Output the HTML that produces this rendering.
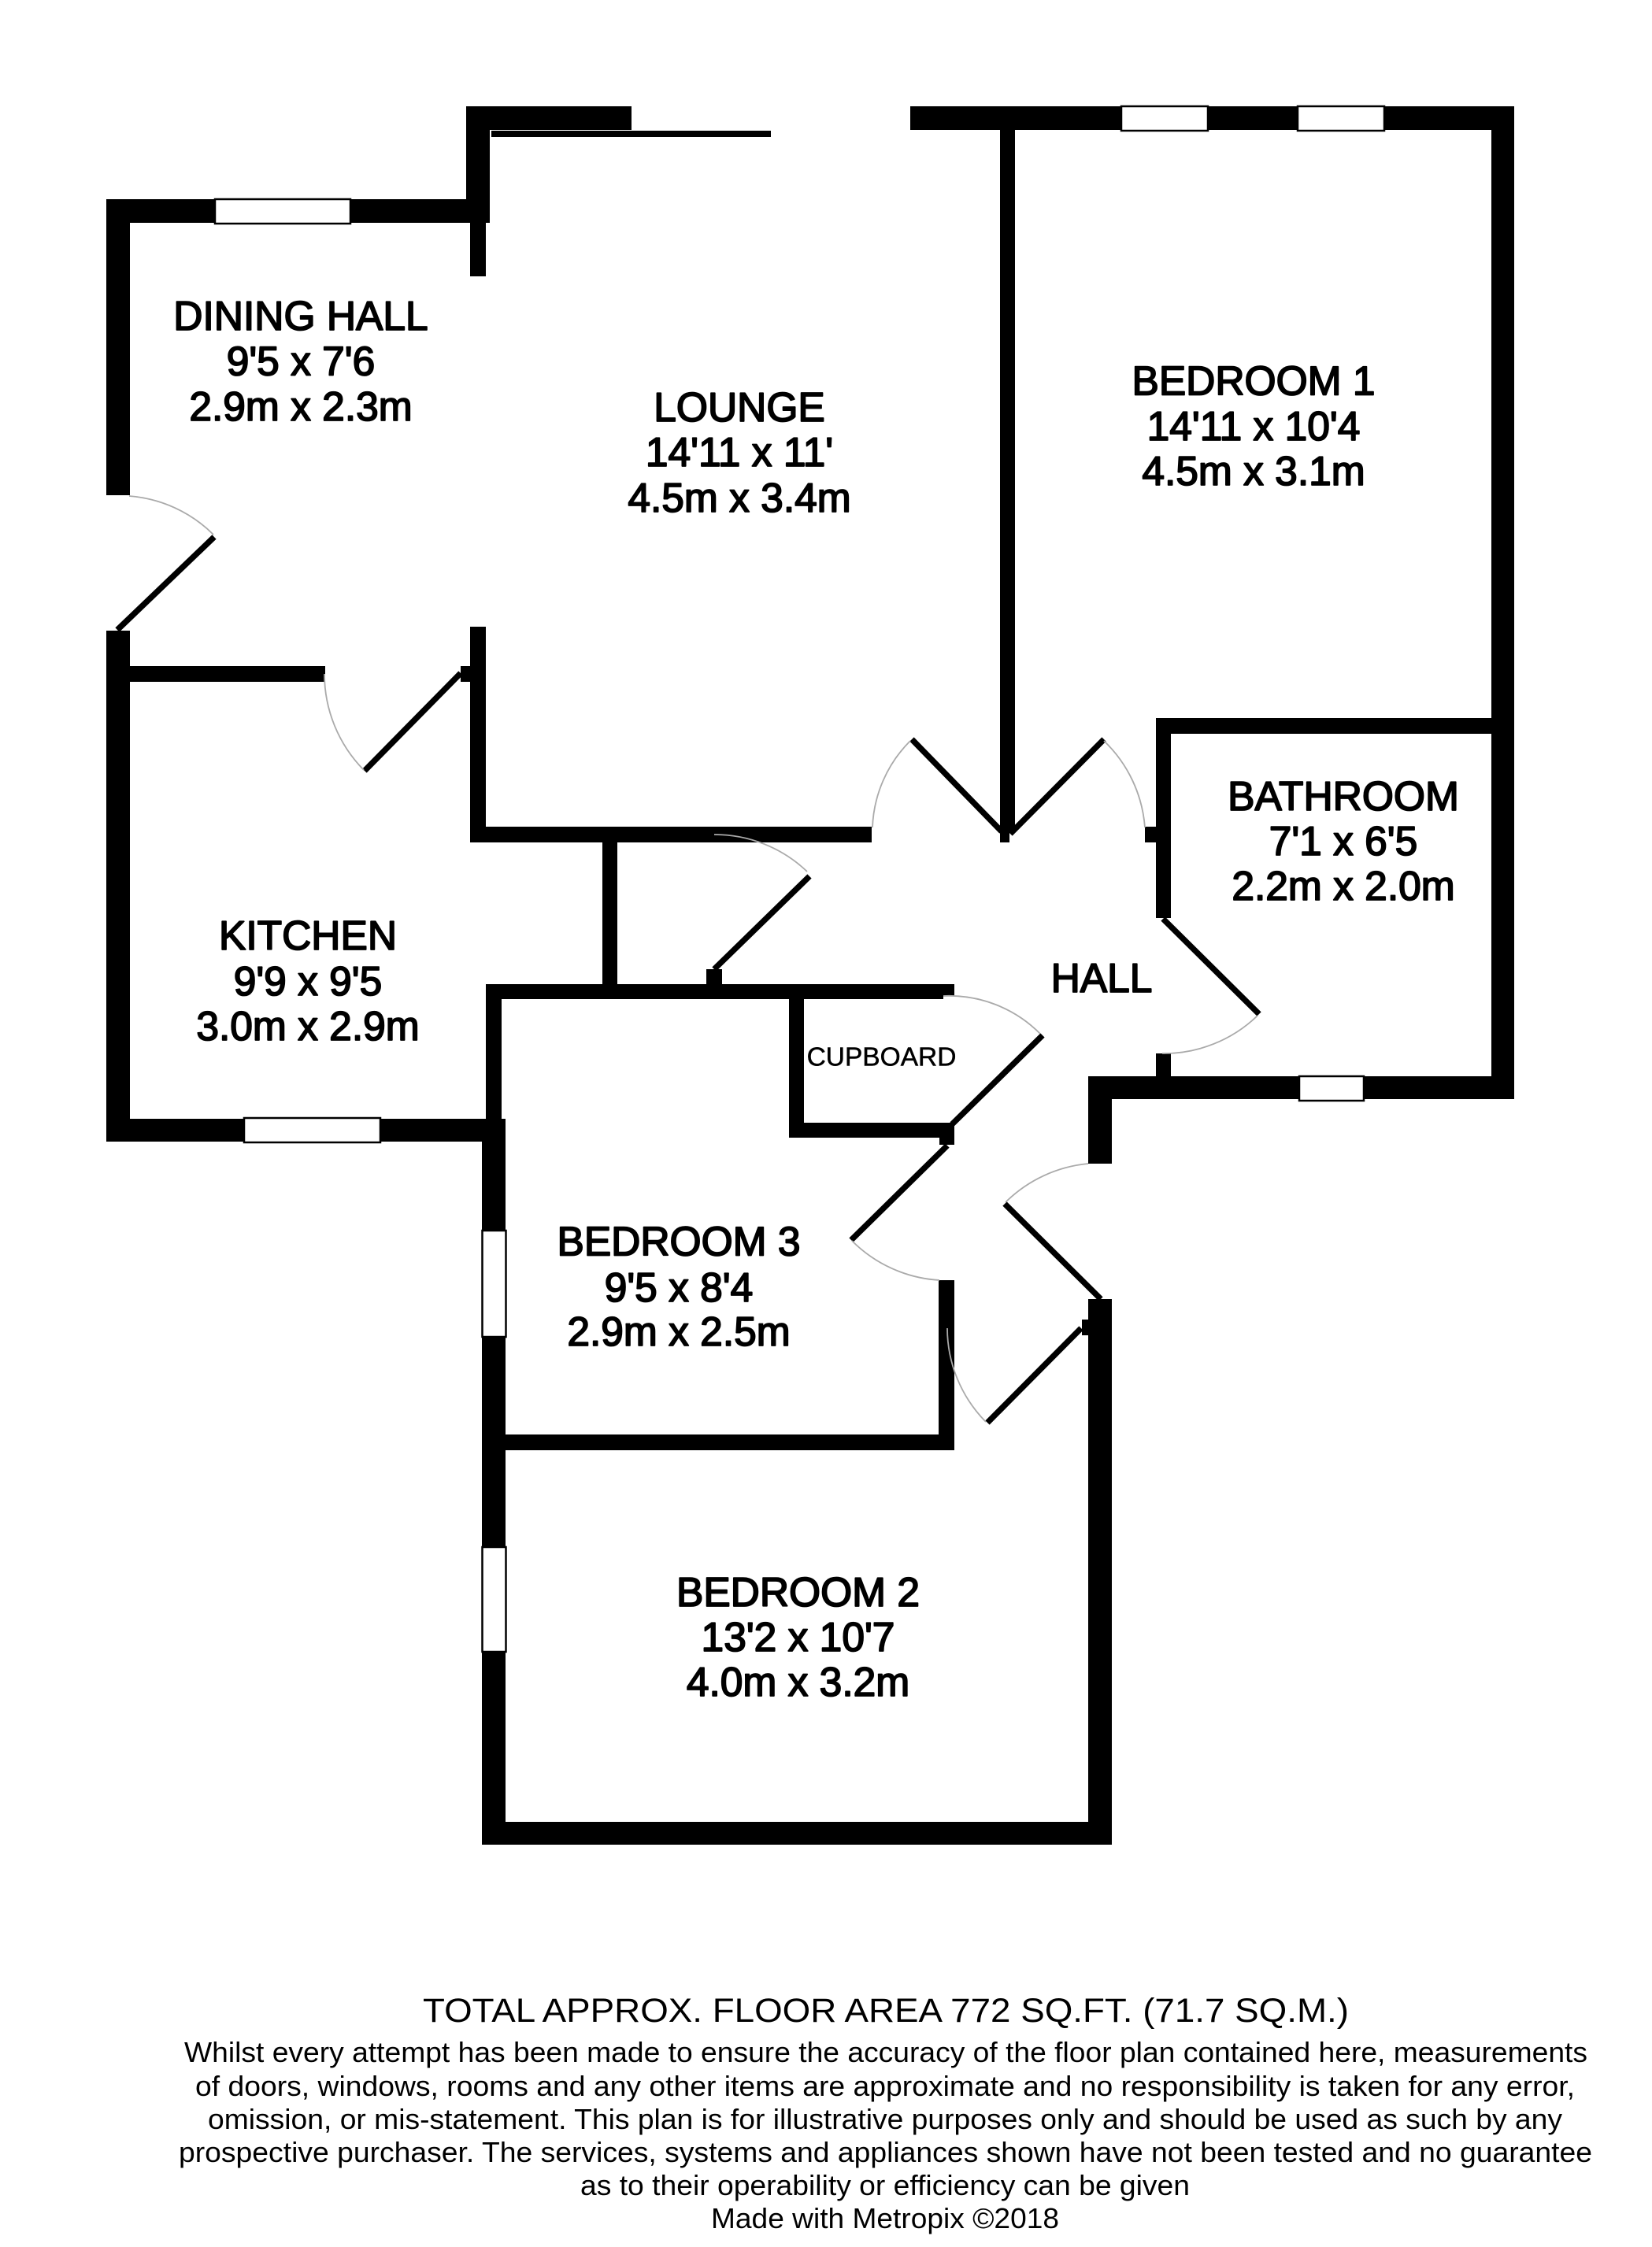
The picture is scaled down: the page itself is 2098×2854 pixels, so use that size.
<!DOCTYPE html>
<html><head><meta charset="utf-8"><style>
html,body{margin:0;padding:0;background:#fff}
svg{display:block}
.l{font-family:"Liberation Sans",Arial,sans-serif;font-size:51.5px;text-anchor:middle;fill:#000;stroke:#000;stroke-width:1.8px;stroke-linejoin:round}
.f{font-family:"Liberation Sans",Arial,sans-serif;font-size:36px;fill:#000}
.w{fill:#000}
.win{fill:#fff;stroke:#000;stroke-width:2.5}
.d{stroke:#000;stroke-width:7.5;fill:none}
.a{stroke:#aaa;stroke-width:1.8;fill:none}
</style></head><body>
<svg xmlns="http://www.w3.org/2000/svg" width="2098" height="2854" viewBox="0 0 2098 2854">
<rect width="2098" height="2854" fill="#fff"/>
<g class="w">
<!-- dining / lounge -->
<rect x="135" y="253" width="487" height="30"/>
<rect x="135" y="253" width="30" height="376"/>
<rect x="592" y="135" width="30" height="148"/>
<rect x="592" y="135" width="210" height="30"/>
<rect x="624" y="166" width="355" height="8"/>
<rect x="597" y="283" width="20" height="68"/>
<!-- kitchen -->
<rect x="135" y="801" width="30" height="649"/>
<rect x="165" y="846" width="248" height="20"/>
<rect x="597" y="796" width="20" height="274"/>
<rect x="585" y="846" width="12" height="20"/>
<rect x="597" y="1050" width="510" height="20"/>
<rect x="765" y="1070" width="19" height="180"/>
<rect x="135" y="1421" width="490" height="29"/>
<!-- bedroom 3 top + cupboard -->
<rect x="617" y="1250" width="595" height="15"/>
<rect x="617" y="1250" width="581" height="19"/>
<rect x="617" y="1250" width="20" height="180"/>
<rect x="897" y="1231" width="20" height="20"/>
<rect x="1002" y="1250" width="19" height="195"/>
<rect x="1002" y="1426" width="210" height="19"/>
<rect x="1193" y="1426" width="19" height="28"/>
<!-- bedroom 3/2 -->
<rect x="612" y="1421" width="30" height="922"/>
<rect x="612" y="2314" width="800" height="29"/>
<rect x="1382" y="1650" width="30" height="693"/>
<rect x="1374" y="1676" width="10" height="20"/>
<rect x="641" y="1822" width="571" height="20"/>
<rect x="1192" y="1626" width="20" height="216"/>
<!-- bedroom 1 -->
<rect x="1156" y="135" width="767" height="30"/>
<rect x="1894" y="135" width="29" height="1261"/>
<rect x="1270" y="165" width="19" height="891"/>
<rect x="1270" y="1056" width="12" height="14"/>
<!-- bathroom -->
<rect x="1468" y="912" width="426" height="20"/>
<rect x="1468" y="912" width="19" height="254"/>
<rect x="1454" y="1050" width="15" height="20"/>
<rect x="1468" y="1338" width="19" height="30"/>
<rect x="1382" y="1367" width="541" height="29"/>
<rect x="1382" y="1367" width="30" height="111"/>
</g>
<!-- windows -->
<rect class="win" x="273" y="253" width="172" height="31"/>
<rect class="win" x="1424" y="135" width="110" height="31"/>
<rect class="win" x="1648" y="135" width="110" height="31"/>
<rect class="win" x="310" y="1420" width="173" height="31"/>
<rect class="win" x="1650" y="1367" width="82" height="31"/>
<rect class="win" x="612.5" y="1563" width="30" height="135"/>
<rect class="win" x="612.5" y="1965" width="30" height="133"/>
<!-- doors -->
<g class="d">
<line x1="149" y1="800" x2="272" y2="682"/>
<line x1="585" y1="855" x2="463" y2="979"/>
<line x1="907" y1="1231" x2="1028" y2="1113"/>
<line x1="1272" y1="1056" x2="1158" y2="939"/>
<line x1="1283" y1="1059" x2="1402" y2="939"/>
<line x1="1477" y1="1167" x2="1599" y2="1288"/>
<line x1="1209" y1="1428" x2="1324" y2="1315"/>
<line x1="1203" y1="1455" x2="1081" y2="1575"/>
<line x1="1398" y1="1650" x2="1276" y2="1529"/>
<line x1="1373" y1="1687" x2="1254" y2="1807"/>
</g>
<g class="a">
<path d="M164 630A170 170 0 0 1 271 679"/>
<path d="M412 856A174 174 0 0 0 462 978"/>
<path d="M907 1060A170 170 0 0 1 1025 1107"/>
<path d="M1108 1051A164 164 0 0 1 1156 941"/>
<path d="M1402 941A170 170 0 0 1 1454 1051"/>
<path d="M1597 1290A171 171 0 0 1 1476 1338"/>
<path d="M1198 1265A163 163 0 0 1 1321 1313"/>
<path d="M1082 1576A171 171 0 0 0 1193 1626"/>
<path d="M1382 1478A172 172 0 0 0 1277 1527"/>
<path d="M1203 1687A170 170 0 0 0 1252 1806"/>
</g>
<!-- labels -->
<g class="l">
<text x="382" y="419">DINING HALL</text><text x="382" y="476.5">9'5 x 7'6</text><text x="382" y="534">2.9m x 2.3m</text>
<text x="939" y="535">LOUNGE</text><text x="939" y="592">14'11 x 11'</text><text x="939" y="650">4.5m x 3.4m</text>
<text x="1592" y="501.5">BEDROOM 1</text><text x="1592" y="559">14'11 x 10'4</text><text x="1592" y="616">4.5m x 3.1m</text>
<text x="391" y="1206">KITCHEN</text><text x="391" y="1264">9'9 x 9'5</text><text x="391" y="1321">3.0m x 2.9m</text>
<text x="1706" y="1029">BATHROOM</text><text x="1706" y="1086">7'1 x 6'5</text><text x="1706" y="1143">2.2m x 2.0m</text>
<text x="1399" y="1260">HALL</text>
<text x="862" y="1594.5">BEDROOM 3</text><text x="862" y="1653">9'5 x 8'4</text><text x="862" y="1709">2.9m x 2.5m</text>
<text x="1013.5" y="2040">BEDROOM 2</text><text x="1013.5" y="2097">13'2 x 10'7</text><text x="1013.5" y="2154">4.0m x 3.2m</text>
</g>
<text x="1119.5" y="1353.5" style='font-family:"Liberation Sans",Arial,sans-serif;font-size:33.5px;text-anchor:middle;fill:#000;stroke:#000;stroke-width:.5px'>CUPBOARD</text>
<!-- footer -->
<g class="f">
<text x="537" y="2568" style="font-size:43px" textLength="1176" lengthAdjust="spacingAndGlyphs">TOTAL APPROX. FLOOR AREA 772 SQ.FT. (71.7 SQ.M.)</text>
<text x="234" y="2619" textLength="1782" lengthAdjust="spacingAndGlyphs">Whilst every attempt has been made to ensure the accuracy of the floor plan contained here, measurements</text>
<text x="248" y="2662" textLength="1752" lengthAdjust="spacingAndGlyphs">of doors, windows, rooms and any other items are approximate and no responsibility is taken for any error,</text>
<text x="264" y="2704" textLength="1720" lengthAdjust="spacingAndGlyphs">omission, or mis-statement. This plan is for illustrative purposes only and should be used as such by any</text>
<text x="227" y="2746" textLength="1795" lengthAdjust="spacingAndGlyphs">prospective purchaser. The services, systems and appliances shown have not been tested and no guarantee</text>
<text x="737" y="2788" textLength="774" lengthAdjust="spacingAndGlyphs">as to their operability or efficiency can be given</text>
<text x="903" y="2830" textLength="442" lengthAdjust="spacingAndGlyphs">Made with Metropix ©2018</text>
</g>
</svg>
</body></html>
